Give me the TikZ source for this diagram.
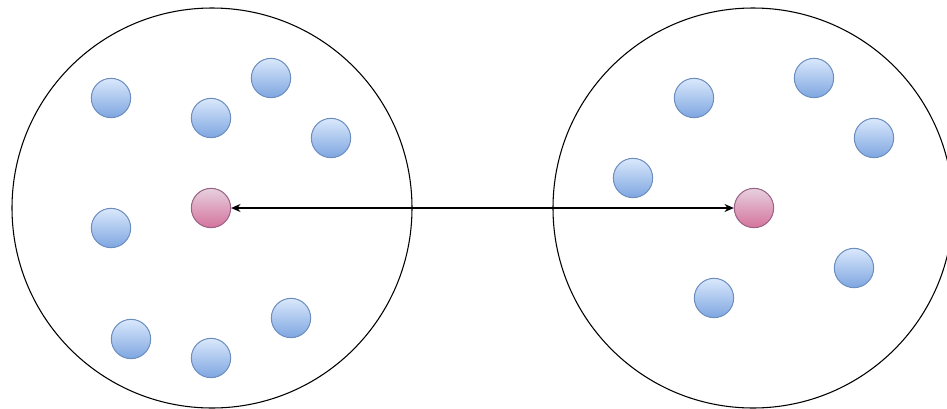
\documentclass[tikz,border=0pt]{standalone}
\usetikzlibrary{arrows.meta}
\definecolor{bluetop}{HTML}{DAE8FC}
\definecolor{bluebot}{HTML}{7EA6E0}
\definecolor{bluestroke}{HTML}{6C8EBF}
\definecolor{pinktop}{HTML}{E6D0DE}
\definecolor{pinkbot}{HTML}{D5739D}
\definecolor{pinkstroke}{HTML}{996185}
\begin{document}
\begin{tikzpicture}[x=0.75pt,y=-0.75pt,
  cluster/.style={circle,draw=black,line width=0.8pt,minimum size=300pt,inner sep=0pt},
  member/.style={circle,draw=bluestroke,line width=0.75pt,top color=bluetop,bottom color=bluebot,minimum size=29.5pt,inner sep=0pt},
  centroid/.style={circle,draw=pinkstroke,line width=0.75pt,top color=pinktop,bottom color=pinkbot,minimum size=29.5pt,inner sep=0pt},
  link/.style={{Stealth[length=7pt,width=6pt]}-{Stealth[length=7pt,width=6pt]},line width=1pt,black}]
\fill[white] (0,0) rectangle (947,408);
\useasboundingbox (0,0) rectangle (947,408);
\begin{scope}
\clip (0,0) rectangle (947,408);
\node[cluster] (c1) at (212,208) {};
\node[cluster] (c2) at (753,208) {};
\end{scope}
% left cluster
\node[member] (a1) at (111,98) {};
\node[member] (a2) at (211,118) {};
\node[member] (a3) at (271,78) {};
\node[member] (a4) at (331,138) {};
\node[member] (a5) at (111,228) {};
\node[member] (a6) at (131,339) {};
\node[member] (a7) at (211,358) {};
\node[member] (a8) at (291,318) {};
\node[centroid] (p1) at (211,208) {};
% right cluster
\node[member] (b1) at (694,98) {};
\node[member] (b2) at (814,78) {};
\node[member] (b3) at (874,138) {};
\node[member] (b4) at (633,178) {};
\node[member] (b5) at (854,268) {};
\node[member] (b6) at (714,298) {};
\node[centroid] (p2) at (754,208) {};
\draw[link] (p1) -- (p2);
\end{tikzpicture}
\end{document}
